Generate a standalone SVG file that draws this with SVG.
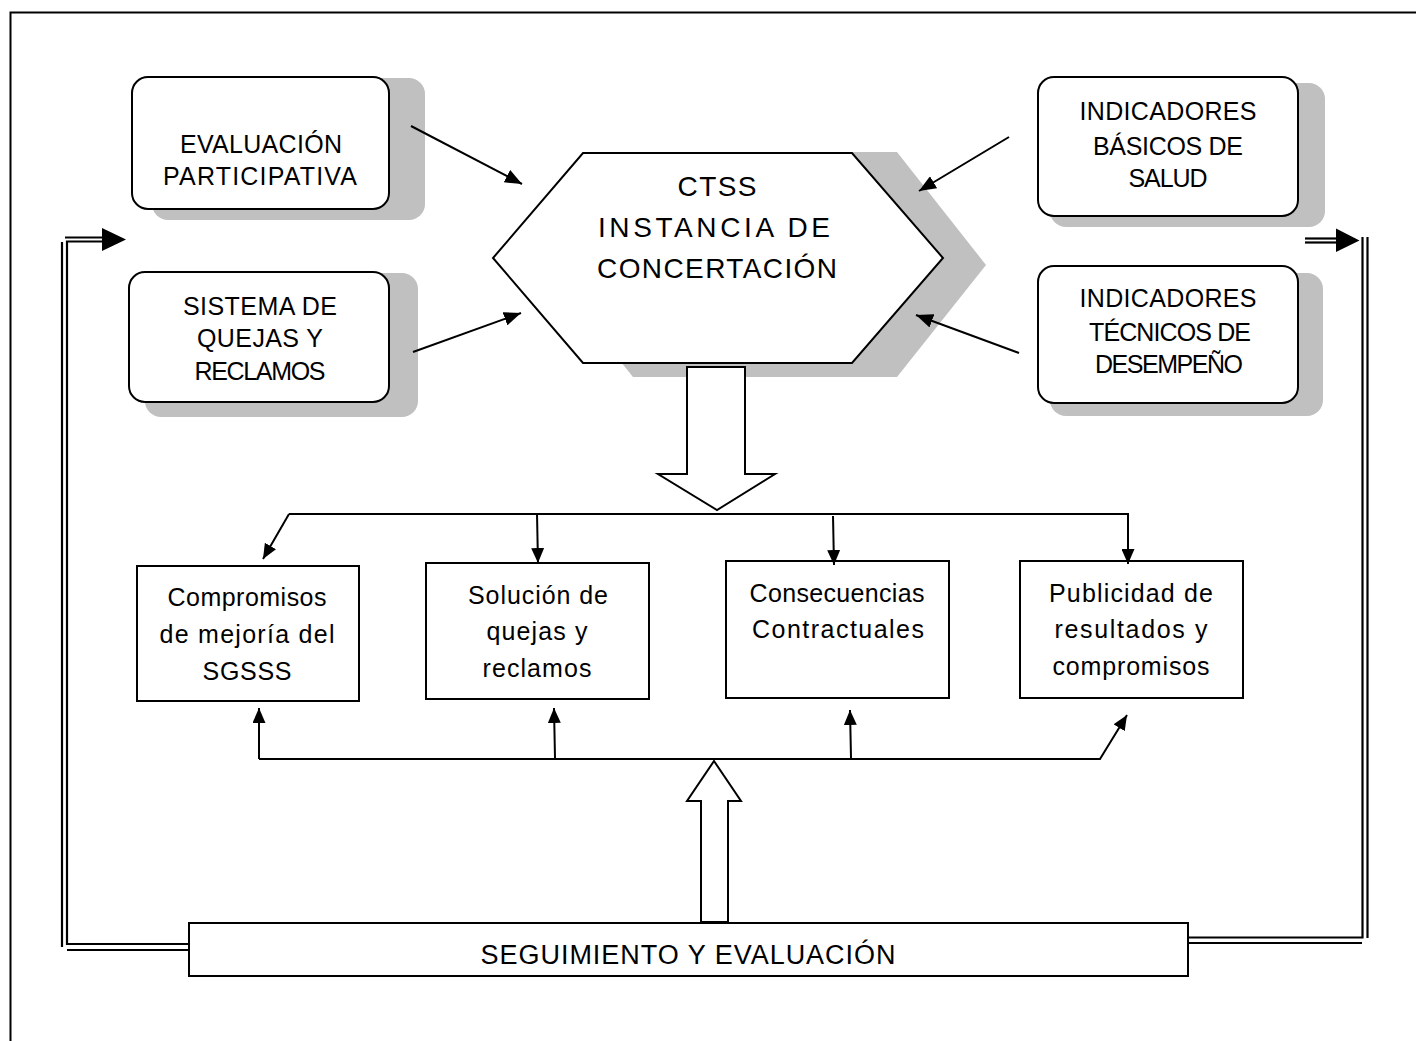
<svg xmlns="http://www.w3.org/2000/svg" width="1416" height="1041" viewBox="0 0 1416 1041">
<style>
  text { font-family: "Liberation Sans", "DejaVu Sans", sans-serif; fill: #000; text-anchor: middle; }
  .t24 { font-size: 25px; }
  .t25 { font-size: 25px; }
  .t27 { font-size: 28px; }
  .t26 { font-size: 27px; }
  .shadow { fill: #c0c0c0; stroke: none; }
  .rbox { fill: #fff; stroke: #000; stroke-width: 2; }
  .box { fill: #fff; stroke: #000; stroke-width: 2; }
  .conn { fill: none; stroke: #000; stroke-width: 2; }
  .dbl { fill: none; stroke: #000; stroke-width: 2.2; }
  .head { fill: #000; stroke: none; }
</style>
<defs>
  <marker id="ah" markerUnits="userSpaceOnUse" markerWidth="17" markerHeight="14" refX="17" refY="7" orient="auto">
    <path d="M0,0 L17,7 L0,14 z" fill="#000"/>
  </marker>
  <marker id="sah" markerUnits="userSpaceOnUse" markerWidth="15" markerHeight="13" refX="15" refY="6.5" orient="auto">
    <path d="M0,0 L15,6.5 L0,13 z" fill="#000"/>
  </marker>
</defs>
<rect width="1416" height="1041" fill="#fff"/>
<!-- page border -->
<path d="M10.5,1041 L10.5,12.5 L1416,12.5" fill="none" stroke="#000" stroke-width="2"/>

<g id="node-evaluacion">
  <rect class="shadow" x="152" y="78" width="273" height="142" rx="16"/>
  <rect class="rbox" x="132" y="77" width="257" height="132" rx="16"/>
  <text class="t24" x="261" y="153" textLength="162">EVALUACIÓN</text>
  <text class="t24" x="260" y="185" textLength="194">PARTICIPATIVA</text>
</g>
<g id="node-sistema">
  <rect class="shadow" x="145" y="273" width="273" height="144" rx="16"/>
  <rect class="rbox" x="129" y="272" width="260" height="130" rx="16"/>
  <text class="t24" x="260" y="315" textLength="154">SISTEMA DE</text>
  <text class="t24" x="260" y="347" textLength="126">QUEJAS Y</text>
  <text class="t24" x="260" y="380" textLength="131">RECLAMOS</text>
</g>
<g id="node-indicadores-basicos">
  <rect class="shadow" x="1050" y="83" width="275" height="144" rx="16"/>
  <rect class="rbox" x="1038" y="77" width="260" height="139" rx="16"/>
  <text class="t24" x="1168" y="120" textLength="177">INDICADORES</text>
  <text class="t24" x="1168" y="155" textLength="150">BÁSICOS DE</text>
  <text class="t24" x="1168" y="187" textLength="79">SALUD</text>
</g>
<g id="node-indicadores-tecnicos">
  <rect class="shadow" x="1050" y="273" width="273" height="143" rx="16"/>
  <rect class="rbox" x="1038" y="266" width="260" height="137" rx="16"/>
  <text class="t24" x="1168" y="307" textLength="177">INDICADORES</text>
  <text class="t24" x="1170" y="341" textLength="162">TÉCNICOS DE</text>
  <text class="t24" x="1169" y="373" textLength="148">DESEMPEÑO</text>
</g>
<g id="node-ctss">
  <polygon class="shadow" points="633,152 897,152 986,265 897,377 633,377 543,265"/>
  <polygon class="box" points="583,153 852,153 943,258 852,363 583,363 493,258"/>
  <text class="t27" x="717" y="196" textLength="79">CTSS</text>
  <text class="t27" x="714" y="237" textLength="232">INSTANCIA DE</text>
  <text class="t27" x="717" y="278" textLength="240">CONCERTACIÓN</text>
</g>
<g id="node-flecha-abajo">
  <polygon class="box" points="687,367 745,367 745,474 775,474 717,510 658,474 687,474"/>
</g>
<g id="node-compromisos">
  <rect class="box" x="137" y="566" width="222" height="135"/>
  <text class="t25" x="247" y="606" textLength="159">Compromisos</text>
  <text class="t25" x="247" y="643" textLength="175">de mejoría del</text>
  <text class="t25" x="247" y="680" textLength="89">SGSSS</text>
</g>
<g id="node-solucion">
  <rect class="box" x="426" y="563" width="223" height="136"/>
  <text class="t25" x="538" y="604" textLength="140">Solución de</text>
  <text class="t25" x="537" y="640" textLength="101">quejas y</text>
  <text class="t25" x="537" y="677" textLength="109">reclamos</text>
</g>
<g id="node-consecuencias">
  <rect class="box" x="726" y="561" width="223" height="137"/>
  <text class="t25" x="837" y="602" textLength="175">Consecuencias</text>
  <text class="t25" x="838" y="638" textLength="172">Contractuales</text>
</g>
<g id="node-publicidad">
  <rect class="box" x="1020" y="561" width="223" height="137"/>
  <text class="t25" x="1131" y="602" textLength="164">Publicidad de</text>
  <text class="t25" x="1131" y="638" textLength="153">resultados y</text>
  <text class="t25" x="1131" y="675" textLength="157">compromisos</text>
</g>
<g id="node-flecha-arriba">
  <polygon class="box" points="714,761 741,801 728,801 728,922 701,922 701,801 687,801"/>
</g>
<g id="node-seguimiento">
  <rect class="box" x="189" y="923" width="999" height="53"/>
  <text class="t26" x="688" y="964" textLength="415">SEGUIMIENTO Y EVALUACIÓN</text>
</g>

<g id="connectors">
  <!-- inputs to CTSS -->
  <line class="conn" x1="411" y1="126" x2="522" y2="184" stroke-width="1.8" marker-end="url(#ah)"/>
  <line class="conn" x1="413" y1="352" x2="521" y2="313" stroke-width="1.8" marker-end="url(#ah)"/>
  <line class="conn" x1="1009" y1="137" x2="919" y2="191" stroke-width="1.8" marker-end="url(#ah)"/>
  <line class="conn" x1="1019" y1="353" x2="916" y2="315" stroke-width="1.8" marker-end="url(#ah)"/>
  <!-- top distribution -->
  <path class="conn" d="M289,514 L1128,514 L1128,564" marker-end="url(#sah)"/>
  <path class="conn" d="M289,514 L263,559" marker-end="url(#sah)"/>
  <path class="conn" d="M537,514 L538,563" marker-end="url(#sah)"/>
  <path class="conn" d="M833,516 L834,565" marker-end="url(#sah)"/>
  <!-- bottom distribution -->
  <path class="conn" d="M259,759 L1100,759 L1127,715" marker-end="url(#sah)"/>
  <path class="conn" d="M259,759 L259,708" marker-end="url(#sah)"/>
  <path class="conn" d="M555,758 L554,708" marker-end="url(#sah)"/>
  <path class="conn" d="M851,758 L850,710" marker-end="url(#sah)"/>
  <!-- left feedback double line -->
  <path class="dbl" d="M103,241.5 L67,241.5 L67,944 L189,944"/>
  <path class="dbl" d="M103,237.5 L65,237.5"/>
  <path class="dbl" d="M62,242 L62,947"/>
  <path class="dbl" d="M67,950 L189,950"/>
  <polygon class="head" points="102,228 126,239.5 102,251"/>
  <!-- right feedback double line -->
  <path class="dbl" d="M1188,937.5 L1362.5,937.5 L1362.5,237"/>
  <path class="dbl" d="M1367.5,237 L1367.5,938"/>
  <path class="dbl" d="M1188,943 L1362,943"/>
  <path class="dbl" d="M1305,238.5 L1337,238.5"/>
  <path class="dbl" d="M1305,242.5 L1337,242.5"/>
  <polygon class="head" points="1336,228.5 1359.5,240.5 1336,252"/>
</g>
</svg>
